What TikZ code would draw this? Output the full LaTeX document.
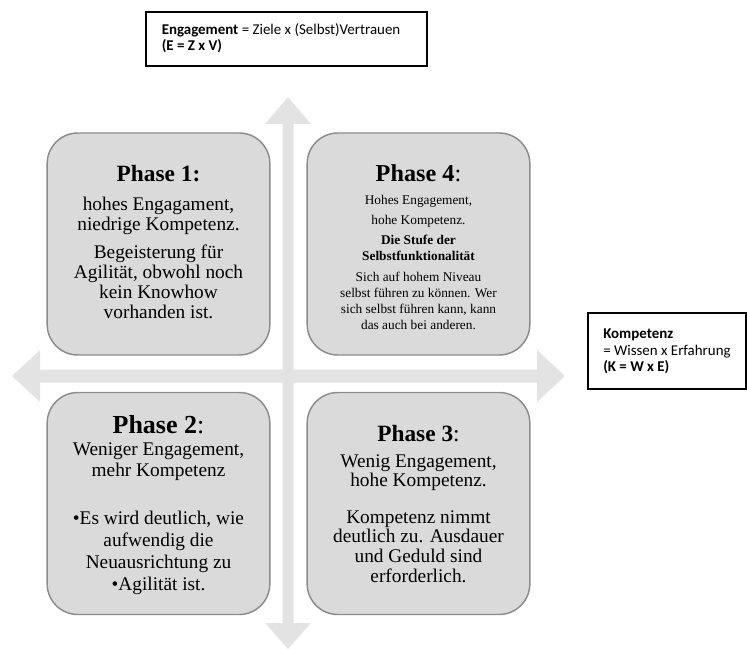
\documentclass[tikz,border=0pt]{standalone}
\usepackage{fontspec}
\setmainfont{Liberation Serif}
\newfontfamily\calfont{Carlito}
\definecolor{boxfill}{HTML}{DADADA}
\definecolor{boxline}{HTML}{8C8C8C}
\definecolor{axisfill}{HTML}{E3E3E3}
\begin{document}
\begin{tikzpicture}[x=0.75pt,y=-0.75pt,
  phasebox/.style={draw=boxline, fill=boxfill, line width=1.1pt, rounded corners=23pt,
    minimum width=167pt, minimum height=166.5pt, inner sep=0pt},
  ptitle/.style={anchor=base, inner sep=0pt},
  pbody/.style={anchor=base, inner sep=0pt, font=\fontsize{14.5}{16}\selectfont},
  psmall/.style={anchor=base, inner sep=0pt, font=\fontsize{10}{12}\selectfont},
  infobox/.style={draw=black, line width=0.8pt, fill=white, inner sep=0pt},
  info/.style={anchor=base west, inner sep=0pt, font=\calfont\fontsize{11.2}{13}\selectfont}
]
\useasboundingbox (0,0) rectangle (747,649);

% axes
\coordinate (vtop) at (288,97);
\coordinate (vbot) at (288,649);
\coordinate (hleft) at (12,376);
\coordinate (hright) at (565,376);
\fill[axisfill] (vtop) -- (311,124) -- (293.5,124) -- (293.5,623) -- (311,623) -- (vbot)
  -- (265,623) -- (282.5,623) -- (282.5,124) -- (265,124) -- cycle;
\fill[axisfill] (hleft) -- (40,350) -- (40,369.5) -- (537,369.5) -- (537,350) -- (hright)
  -- (537,402) -- (537,382.5) -- (40,382.5) -- (40,402) -- cycle;

% phase boxes
\node[phasebox] (p1) at (158.5,244) {};
\node[phasebox] (p4) at (418.5,244) {};
\node[phasebox] (p2) at (158.5,503.5) {};
\node[phasebox] (p3) at (418.5,503.5) {};

% Phase 1
\node[ptitle, font=\fontsize{17.5}{20}\selectfont\bfseries] (t1) at (158.5,182) {Phase 1:};
\node[pbody] (a1) at (158.5,211) {hohes Engagament,};
\node[pbody] (a2) at (158.5,231) {niedrige Kompetenz.};
\node[pbody] (a3) at (158.5,259) {Begeisterung für};
\node[pbody] (a4) at (158.5,279) {Agilität, obwohl noch};
\node[pbody] (a5) at (158.5,299) {kein Knowhow};
\node[pbody] (a6) at (158.5,319) {vorhanden ist.};

% Phase 4
\node[ptitle, font=\fontsize{18.2}{20}\selectfont] (t4) at (418.5,182) {\textbf{Phase 4}:};
\node[psmall] (d1) at (418.5,205) {Hohes Engagement,};
\node[psmall] (d2) at (418.5,225) {hohe Kompetenz.};
\node[psmall, font=\fontsize{10}{12}\selectfont\bfseries] (d3) at (418.5,245) {Die Stufe der};
\node[psmall, font=\fontsize{10}{12}\selectfont\bfseries] (d4) at (418.5,261) {Selbstfunktionalität};
\node[psmall] (d5) at (418.5,281.5) {Sich auf hohem Niveau};
\node[psmall] (d6) at (418.5,297.5) {selbst führen zu können. Wer};
\node[psmall] (d7) at (418.5,313.5) {sich selbst führen kann,  kann};
\node[psmall] (d8) at (418.5,329.5) {das auch bei anderen.};

% Phase 2
\node[ptitle, font=\fontsize{19.5}{20}\selectfont] (t2) at (158.5,433) {\textbf{Phase 2}:};
\node[pbody] (b1) at (158.5,455) {Weniger Engagement,};
\node[pbody] (b2) at (158.5,476) {mehr Kompetenz};
\node[pbody] (b3) at (158.5,524) {•Es wird deutlich, wie};
\node[pbody] (b4) at (158.5,546) {aufwendig die};
\node[pbody] (b5) at (158.5,568) {Neuausrichtung zu};
\node[pbody] (b6) at (158.5,590) {•Agilität ist.};

% Phase 3
\node[ptitle, font=\fontsize{17.5}{20}\selectfont] (t3) at (418.5,441) {\textbf{Phase 3}:};
\node[pbody] (c1) at (418.5,467) {Wenig Engagement,};
\node[pbody] (c2) at (418.5,486) {hohe Kompetenz.};
\node[pbody] (c3) at (418.5,523) {Kompetenz nimmt};
\node[pbody] (c4) at (418.5,542) {deutlich zu. Ausdauer};
\node[pbody] (c5) at (418.5,562) {und Geduld sind};
\node[pbody] (c6) at (418.5,582) {erforderlich.};

% info boxes
\node[infobox, minimum width=210.75pt, minimum height=40.5pt] (eng) at (286.5,39) {};
\node[info] (e1) at (161.5,35) {\textbf{Engagement} = Ziele x (Selbst)Vertrauen};
\node[info] (e2) at (161.5,51) {\textbf{(E = Z x V)}};
\node[infobox, minimum width=118.5pt, minimum height=57pt] (komp) at (667,351) {};
\node[info] (k1) at (603,339) {\textbf{Kompetenz}};
\node[info] (k2) at (603,355) {= Wissen x Erfahrung};
\node[info] (k3) at (603,371) {\textbf{(K = W x E)}};
\end{tikzpicture}
\end{document}
